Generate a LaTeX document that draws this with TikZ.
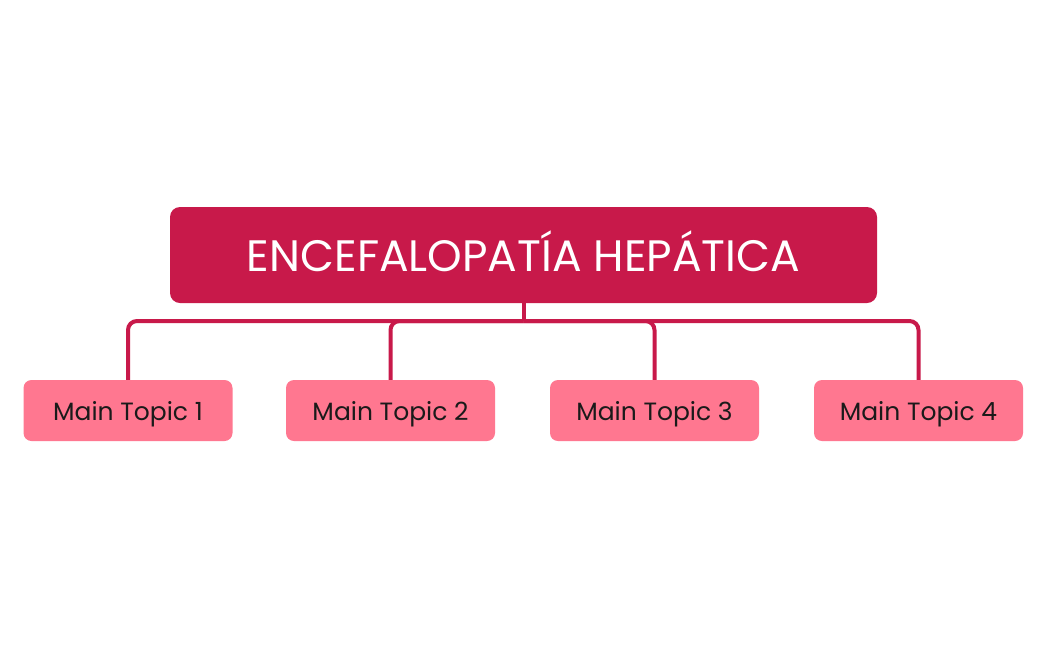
\documentclass[tikz,border=0pt]{standalone}
\usepackage{fontspec}
\setmainfont{Poppins}
\definecolor{mainred}{HTML}{C8194A}
\definecolor{subpink}{HTML}{FF7790}
\definecolor{txtdark}{HTML}{1A1A1A}
\begin{document}
\begin{tikzpicture}[x=1pt,y=-1pt,
  mainbox/.style={fill=mainred,rounded corners=10pt,minimum width=707pt,minimum height=96pt,inner sep=0pt,text height=32pt,text depth=0pt,text=white,font=\fontsize{44}{50}\selectfont},
  topicbox/.style={fill=subpink,rounded corners=8pt,minimum width=209pt,minimum height=61pt,inner sep=0pt,text height=20pt,text depth=0pt,text=txtdark,font=\fontsize{25}{30}\selectfont},
  conn/.style={draw=mainred,line width=4pt,rounded corners=9pt}]
\useasboundingbox[fill=white] (0,0) rectangle (1050,649);
\node[mainbox] (main) at (523.5,255) {ENCEFALOPATÍA HEPÁTICA};
\node[topicbox] (t1) at (128,410.5) {Main Topic 1};
\node[topicbox] (t2) at (390.5,410.5) {Main Topic 2};
\node[topicbox] (t3) at (654.5,410.5) {Main Topic 3};
\node[topicbox] (t4) at (918.5,410.5) {Main Topic 4};
\coordinate (hub) at (main.south |- 0,321);
\draw[conn] (main.south) -- (hub);
\draw[conn] (hub) -| (t1.north);
\draw[conn] (hub) -| (t2.north);
\draw[conn] (hub) -| (t3.north);
\draw[conn] (hub) -| (t4.north);
\end{tikzpicture}
\end{document}
